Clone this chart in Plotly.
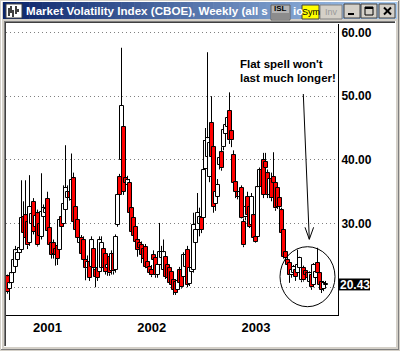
import plotly.graph_objects as go
import pandas as pd

# ---------------- data (weekly candles, VIX/CBOE) ----------------
week_start = "2000-08-14"
opens = [
    21.7, 19.8, 20.7, 22.2, 23.2, 24.3, 25.4, 25.9, 31.0, 31.3,
    30.3, 27.0, 30.0, 33.4, 29.5, 31.6, 30.0, 27.9, 31.0, 31.7,
    33.9, 29.3, 27.0, 26.9, 26.0, 26.5, 25.9, 31.0, 30.0, 32.1,
    34.0, 35.0, 33.7, 37.1, 32.6, 30.6, 27.0, 27.8, 27.4, 24.3,
    23.0, 24.0, 23.2, 26.0, 22.7, 23.0, 22.4, 23.0, 26.0, 25.3,
    23.0, 24.7, 22.5, 25.3, 22.7, 29.8, 37.3, 40.0, 45.2, 37.1,
    36.1, 36.4, 32.4, 30.9, 29.5, 27.4, 27.0, 26.6, 26.0, 26.3,
    24.0, 23.2, 22.7, 25.1, 24.6, 22.0, 23.5, 24.6, 22.7, 24.8,
    23.5, 23.0, 22.4, 21.1, 20.8, 19.5, 22.7, 22.7, 21.6, 23.2,
    25.9, 20.5, 22.4, 22.7, 27.0, 29.0, 30.0, 30.9, 30.9, 38.5,
    40.5, 37.3, 45.8, 42.0, 33.0, 34.2, 39.2, 41.2, 42.0, 44.0,
    45.2, 47.7, 44.5, 40.8, 36.5, 35.0, 34.2, 35.6, 30.3, 31.0,
    34.2, 32.6, 29.8, 31.3, 27.9, 27.9, 35.7, 38.4, 40.0, 39.7,
    37.9, 34.5, 37.0, 37.3, 36.4, 35.6, 34.0, 32.1, 29.0, 25.5,
    24.3, 23.8, 22.0, 22.2, 22.7, 22.2, 23.0, 21.1, 23.0, 22.5,
    22.2, 20.8, 21.9, 20.4, 21.5, 23.8, 22.2, 20.8, 19.8, 20.4,
]
highs = [
    22.0, 21.5, 22.6, 24.8, 26.5, 26.2, 27.5, 36.8, 33.5, 36.8,
    31.0, 37.6, 33.0, 34.0, 31.5, 32.2, 31.0, 37.9, 33.0, 33.5,
    35.0, 29.8, 27.5, 27.5, 26.8, 27.0, 31.0, 32.0, 36.0, 42.3,
    36.0, 35.5, 41.0, 38.0, 33.0, 31.0, 28.0, 28.2, 28.0, 24.8,
    25.0, 24.5, 28.0, 27.0, 23.2, 23.5, 28.0, 28.0, 26.5, 26.0,
    24.0, 25.2, 25.8, 25.8, 28.3, 35.0, 37.8, 57.6, 46.0, 37.5,
    37.5, 37.0, 33.0, 31.5, 30.0, 28.0, 27.5, 27.2, 26.5, 26.8,
    25.0, 24.0, 23.5, 25.8, 25.0, 24.0, 30.1, 26.5, 27.5, 25.4,
    24.0, 23.5, 22.8, 21.5, 21.3, 21.5, 23.2, 23.3, 25.5, 25.8,
    26.5, 23.5, 23.5, 31.7, 30.0, 34.8, 32.5, 31.5, 43.1, 45.0,
    56.9, 44.0, 50.0, 43.0, 36.0, 37.0, 41.0, 42.0, 45.0, 46.5,
    47.5, 50.6, 45.5, 41.5, 37.5, 35.8, 35.5, 36.0, 30.8, 33.0,
    35.0, 33.5, 34.8, 32.0, 28.5, 36.0, 38.8, 39.0, 41.1, 41.1,
    38.5, 37.5, 38.0, 41.2, 37.0, 36.0, 34.5, 32.5, 29.5, 26.5,
    25.5, 24.2, 23.0, 23.5, 23.2, 25.9, 24.8, 23.2, 23.4, 23.0,
    22.5, 22.5, 22.3, 23.8, 22.8, 26.2, 22.6, 21.2, 21.0, 21.0,
]
lows = [
    19.0, 18.0, 20.3, 21.8, 22.8, 23.8, 25.0, 25.5, 28.0, 27.0,
    26.0, 26.5, 29.0, 28.3, 28.8, 26.4, 27.0, 27.5, 30.0, 31.0,
    28.0, 26.0, 24.5, 24.5, 23.4, 23.5, 25.5, 29.3, 29.5, 31.5,
    33.0, 33.6, 33.0, 30.0, 28.8, 27.5, 26.5, 24.8, 24.0, 21.1,
    22.0, 21.0, 22.8, 22.5, 20.0, 21.0, 21.8, 22.5, 22.5, 22.0,
    21.8, 21.8, 22.0, 22.0, 22.3, 29.5, 33.5, 39.5, 34.5, 35.5,
    35.5, 31.3, 28.5, 27.5, 26.0, 24.8, 25.5, 23.8, 24.0, 23.0,
    22.5, 22.0, 21.6, 24.0, 21.5, 21.5, 23.0, 24.2, 22.4, 21.3,
    21.0, 20.5, 20.0, 18.8, 18.8, 19.2, 20.3, 19.8, 21.2, 22.8,
    20.0, 20.2, 22.0, 22.3, 26.5, 28.5, 28.0, 28.5, 30.5, 38.0,
    40.0, 36.5, 40.0, 31.7, 32.0, 33.5, 38.5, 38.3, 41.5, 43.0,
    44.5, 42.5, 42.0, 35.5, 34.0, 33.8, 34.0, 30.8, 26.3, 30.5,
    31.0, 29.3, 29.5, 27.5, 27.0, 27.5, 35.2, 35.3, 34.0, 38.0,
    34.0, 34.0, 33.5, 36.0, 32.0, 32.3, 32.2, 28.2, 24.5, 23.8,
    23.0, 20.7, 21.5, 21.8, 21.0, 21.8, 22.6, 20.8, 20.9, 21.5,
    21.0, 20.5, 19.6, 20.0, 21.2, 22.0, 20.2, 19.1, 19.4, 20.0,
]
closes = [
    19.3, 20.6, 22.2, 24.3, 25.8, 25.4, 26.2, 30.9, 28.5, 27.7,
    26.6, 32.6, 31.5, 28.7, 31.2, 26.6, 28.0, 31.8, 32.5, 32.3,
    28.9, 26.6, 25.1, 25.3, 25.0, 24.5, 30.6, 29.5, 33.0, 35.6,
    35.0, 34.0, 36.8, 30.2, 29.0, 27.8, 27.8, 25.3, 24.3, 23.0,
    24.0, 21.5, 27.4, 23.0, 21.6, 21.5, 27.4, 27.0, 23.0, 22.4,
    23.5, 22.2, 25.3, 22.5, 27.9, 34.5, 34.5, 48.5, 35.0, 36.3,
    36.8, 31.7, 28.7, 28.0, 27.1, 25.9, 26.2, 25.1, 24.5, 23.2,
    23.0, 22.2, 21.9, 24.3, 21.9, 23.5, 25.5, 25.5, 25.5, 21.6,
    21.5, 20.7, 20.4, 19.6, 19.1, 21.0, 20.7, 20.0, 25.1, 25.1,
    20.4, 23.0, 23.0, 29.8, 29.0, 31.7, 31.0, 29.0, 38.4, 43.0,
    43.4, 42.6, 40.5, 32.6, 35.0, 36.1, 40.3, 38.7, 44.7, 45.5,
    46.6, 43.1, 43.1, 36.4, 35.0, 34.2, 35.0, 30.9, 26.6, 32.6,
    31.3, 29.5, 34.2, 27.7, 27.1, 35.7, 38.4, 35.7, 34.5, 38.7,
    34.5, 37.0, 34.0, 36.4, 32.4, 32.6, 32.6, 28.5, 24.8, 24.6,
    23.5, 21.9, 22.7, 23.2, 21.6, 23.5, 24.6, 23.0, 21.1, 22.0,
    21.4, 22.2, 20.0, 23.5, 22.4, 22.2, 20.4, 19.6, 20.6, 20.43,
]
year_ticks = ["2001-01-01", "2002-01-01", "2003-01-01"]
year_labels = ["2001", "2002", "2003"]
price_ticks = [20, 30, 40, 50, 60]
price_labels = ["", "30.00", "40.00", "50.00", "60.00"]
window_title = "Market Volatility Index (CBOE), Weekly (all s"
window_title_tail = "io"
note_lines = ["Flat spell won't", "last much longer!"]

# ---------------- geometry / style ----------------
W, H = 400, 351
L, R, T, B = 6, 338, 24, 315
x_range = ["2000-08-08 18:00", "2003-10-14 18:00"]
y_range = [15.65, 61.33]
FONT = "Liberation Sans"
UP, DOWN = "#ffffff", "#ff0000"

def px(x):
    return (x - L) / (R - L)

def py(y):
    return (B - y) / (B - T)

dates = pd.date_range(week_start, periods=len(opens), freq="7D")

body_base = [min(o, c) for o, c in zip(opens, closes)]
body_len = [max(abs(c - o), 0.15) for o, c in zip(opens, closes)]
body_col = [UP if c >= o else DOWN for o, c in zip(opens, closes)]

wx, wy = [], []
for d, o, h, l, c in zip(dates, opens, highs, lows, closes):
    top, bot = max(o, c), min(o, c)
    if h > top:
        wx += [d, d, None]
        wy += [top, h, None]
    if l < bot:
        wx += [d, d, None]
        wy += [l, bot, None]

fig = go.Figure()
fig.add_trace(go.Bar(
    x=dates, y=body_len, base=body_base,
    width=14 * 86400000,
    marker=dict(color=body_col, line=dict(color="black", width=1)),
    hoverinfo="skip",
))
fig.add_trace(go.Scatter(
    x=wx, y=wy, mode="lines", line=dict(color="black", width=1),
    hoverinfo="skip", connectgaps=False,
))

shapes = []
annotations = []

def rect(x0, y0, x1, y1, fill, line=None, lw=0, layer="below"):
    shapes.append(dict(type="rect", xref="paper", yref="paper",
                       x0=px(x0), x1=px(x1), y0=py(y1), y1=py(y0),
                       fillcolor=fill, layer=layer,
                       line=dict(width=lw, color=line or fill)))

def seg(x0, y0, x1, y1, color="black", lw=1, layer="below"):
    shapes.append(dict(type="line", xref="paper", yref="paper",
                       x0=px(x0), x1=px(x1), y0=py(y0), y1=py(y1),
                       layer=layer, line=dict(width=lw, color=color)))

def text(s, x, y, size, color="black", xanchor="left", bold=True):
    annotations.append(dict(text=s, xref="paper", yref="paper",
                            x=px(x), y=py(y), xanchor=xanchor, yanchor="middle",
                            showarrow=False,
                            font=dict(family=FONT, size=size, color=color,
                                      weight="bold" if bold else "normal")))

# window frame
rect(0, 0, W, H, "#d4d0c8")
rect(1, 1, 2, H - 1, "#ffffff")
rect(1, 1, W - 1, 2, "#ffffff")
rect(W - 2, 1, W - 1, H - 1, "#808080")
rect(1, H - 2, W - 1, H - 1, "#808080")

# title bar gradient
c0, c1 = (10, 36, 106), (166, 202, 240)
N = 60
bx0, bx1 = 3, 397
for k in range(N):
    t = k / (N - 1)
    col = "rgb(%d,%d,%d)" % tuple(round(a + (b - a) * t) for a, b in zip(c0, c1))
    xa = bx0 + (bx1 - bx0) * k / N
    xb = bx0 + (bx1 - bx0) * (k + 1) / N + 0.5
    rect(xa, 2, min(xb, bx1), 19, col)

# client area (sunken)
rect(4, 21, 396, 22, "#808080")
rect(4, 21, 5, 347, "#808080")
rect(5, 22, 395, 23, "#404040")
rect(5, 22, 6, 346, "#404040")
rect(4, 346, 396, 347, "#ffffff")
rect(395, 21, 396, 347, "#ffffff")
rect(6, 23, 395, 346, "#ffffff")

# title icon
rect(6, 4, 22, 18, "#ffffff", "#404040", 1)
for xx, y0, y1 in [(9, 8, 16), (11, 6, 13), (13, 10, 17), (16, 6, 14), (18, 9, 12)]:
    seg(xx, y0, xx, y1, "black", 1.5)

# title buttons
rect(271, 5, 290, 20, "#b4b4b4", "#606060", 1)
rect(272, 13, 289, 19, "#8c8c8c")
rect(302, 5, 319, 19, "#ffff00", "#404040", 1)
rect(320, 5, 342, 19, "#d4d0c8", "#808080", 1)
for bx in [(344, 360), (361, 377), (379, 395)]:
    rect(bx[0], 4, bx[1], 18, "#d4d0c8", "#404040", 1)
# min glyph
rect(348, 13, 354, 15, "black")
# max glyph
rect(365, 7, 373, 15, "#d4d0c8", "black", 1)
rect(365, 7, 373, 9, "black")
# close glyph
seg(384, 7.5, 391, 14.5, "black", 2)
seg(391, 7.5, 384, 14.5, "black", 2)

# last value box
last = closes[-1]
yv = lambda v: (v - y_range[0]) / (y_range[1] - y_range[0])
shapes.append(dict(type="rect", xref="paper", yref="paper",
                   x0=px(339), x1=px(370), y0=yv(last - 0.92), y1=yv(last + 0.95),
                   fillcolor="black", line=dict(width=0), layer="above"))

# annotation arrow & circle
seg(303.3, 94, 309.3, 239.3, "black", 1, "above")
shapes.append(dict(type="path", xref="paper", yref="paper", layer="above",
                   path="M %f,%f L %f,%f L %f,%f" % (px(305), py(227.3), px(309.3), py(239.3), px(313.6), py(227.3)),
                   line=dict(color="black", width=1)))
shapes.append(dict(type="circle", xref="paper", yref="paper", layer="above",
                   x0=px(280), x1=px(335), y0=py(306.7), y1=py(246.7),
                   line=dict(color="black", width=1)))

# texts
text(window_title, 23.5, 11, 11.6, "white")
text(window_title_tail, 290.5, 11, 11.6, "white")
text("ISL", 280.5, 8.5, 8, "black", "center")
text("Sym", 310.5, 12, 9, "black", "center", bold=False)
text("Inv", 331, 12, 9, "#9a9a9a", "center", bold=False)
text(note_lines[0], 237.5, 64, 11.5)
text(note_lines[1], 237.5, 78, 11.5)
annotations.append(dict(text="%.2f" % last, xref="paper", yref="y", x=px(354.5), y=last,
                        xanchor="center", yanchor="middle", showarrow=False,
                        font=dict(family=FONT, size=12, color="white", weight="bold")))

fig.update_layout(
    width=W, height=H,
    margin=dict(l=L, r=W - R, t=T, b=H - B, pad=0),
    paper_bgcolor="white", plot_bgcolor="white",
    showlegend=False, bargap=0,
    shapes=shapes, annotations=annotations,
    xaxis=dict(type="date", range=x_range, showgrid=False, zeroline=False,
               showline=True, linecolor="black", linewidth=1,
               tickvals=year_ticks, ticktext=year_labels, ticks="",
               tickfont=dict(family=FONT, size=13, color="black", weight="bold"),
               fixedrange=True),
    yaxis=dict(side="right", range=y_range, showgrid=True, gridcolor="#808080",
               griddash="1px,3px", gridwidth=1, zeroline=False,
               showline=True, linecolor="black", linewidth=1,
               tickvals=price_ticks, ticktext=price_labels, ticks="",
               tickfont=dict(family=FONT, size=12, color="black", weight="bold"),
               fixedrange=True),
)

fig.write_html("out.html", config={"displayModeBar": False})
